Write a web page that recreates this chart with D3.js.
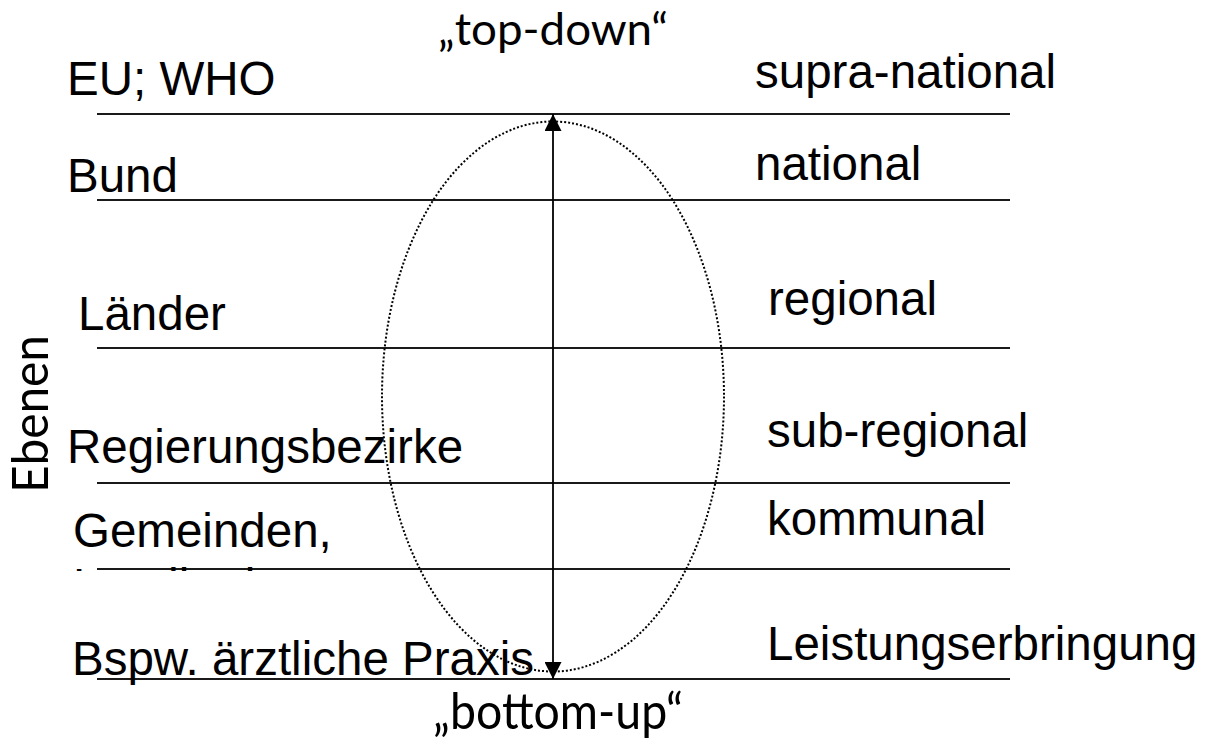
<!DOCTYPE html>
<html>
<head>
<meta charset="utf-8">
<script src="https://cdn.jsdelivr.net/npm/d3@7"></script>
<style>
  body { margin: 0; background: #fff; }
  svg { display: block; }
</style>
</head>
<body>
<svg id="chart" width="1210" height="743"></svg>
<script>
const width = 1210;
const height = 743;

// levels, top to bottom
var levelNames = ["EU; WHO", "Bund", "Länder", "Regierungsbezirke", "Gemeinden,", "Bspw. ärztliche Praxis"];
var scopeNames = ["supra-national", "national", "regional", "sub-regional", "kommunal", "Leistungserbringung"];
// position of each level's line on a 0..5.65 "level depth" scale
var levelEdges = [0, 0.86, 2.34, 3.69, 4.55, 5.65];
var hiddenLine = "Landkreise";
var topLabel = "\u201Etop-down\u201C";
var bottomLabel = "\u201Ebottom-up\u201C";
var axisLabel = "Ebenen";

// layout only
var leftX = [67, 67, 78, 67, 73, 72];
var leftOff = [19, 8, 18, 20, 22, 4];
var rightX = [755, 755, 768, 767, 767, 767];
var rightOff = [26, 20, 33, 36, 34, 19];

var svg = d3.select("#chart");

var y = d3.scaleLinear()
    .domain([0, 5.65])
    .range([114, 679]);

var x = d3.scaleLinear()
    .domain([0, 1])
    .range([97, 1010]);

var sansFont = "'Liberation Sans', Arial, sans-serif";
var humanFont = "Lato, 'Open Sans', sans-serif";
var labelSize = 47.5;

// level lines
svg.append("g")
    .selectAll("line")
    .data(levelEdges)
    .join("line")
    .attr("x1", x(0))
    .attr("x2", x(1))
    .attr("y1", d => y(d))
    .attr("y2", d => y(d))
    .attr("stroke", "#1a1a1a")
    .attr("stroke-width", 2);

// left labels
svg.append("g")
    .selectAll("text")
    .data(levelNames)
    .join("text")
    .attr("x", (d, i) => leftX[i])
    .attr("y", (d, i) => y(levelEdges[i]) - leftOff[i])
    .attr("font-family", sansFont)
    .attr("font-size", labelSize)
    .attr("fill", "#000")
    .text(d => d);

// second line of the "Gemeinden," box, cut off by its frame
var defs = svg.append("defs");
defs.append("clipPath").attr("id", "cutoff")
    .append("rect")
    .attr("x", 60).attr("y", y(levelEdges[4]) - 4)
    .attr("width", 400).attr("height", 6);

svg.append("text")
    .attr("clip-path", "url(#cutoff)")
    .attr("x", leftX[4])
    .attr("y", y(levelEdges[4]) + 33)
    .attr("font-family", sansFont)
    .attr("font-size", labelSize)
    .text(hiddenLine);

// right labels
svg.append("g")
    .selectAll("text")
    .data(scopeNames)
    .join("text")
    .attr("x", (d, i) => rightX[i])
    .attr("y", (d, i) => y(levelEdges[i]) - rightOff[i])
    .attr("font-family", sansFont)
    .attr("font-size", labelSize)
    .attr("fill", "#000")
    .text(d => d);

// dotted ellipse
var cx = 553;
svg.append("ellipse")
    .attr("cx", cx)
    .attr("cy", (y(0) + y(5.65)) / 2)
    .attr("rx", 171)
    .attr("ry", 275)
    .attr("fill", "none")
    .attr("stroke", "#000")
    .attr("stroke-width", 2)
    .attr("stroke-dasharray", "2,2");

// double arrow
defs.append("marker")
    .attr("id", "head")
    .attr("viewBox", "0 0 10 10")
    .attr("refX", 10).attr("refY", 5)
    .attr("markerWidth", 17).attr("markerHeight", 17)
    .attr("markerUnits", "userSpaceOnUse")
    .attr("orient", "auto-start-reverse")
    .append("path")
    .attr("d", "M0,0 L10,5 L0,10 Z")
    .attr("fill", "#000");

svg.append("line")
    .attr("x1", cx).attr("x2", cx)
    .attr("y1", y(0)).attr("y2", y(5.65))
    .attr("stroke", "#000")
    .attr("stroke-width", 1.8)
    .attr("marker-start", "url(#head)")
    .attr("marker-end", "url(#head)");

// top / bottom labels
svg.append("text")
    .attr("x", 438).attr("y", 45)
    .attr("font-family", humanFont)
    .attr("font-size", 44)
    .attr("textLength", 230)
    .attr("lengthAdjust", "spacingAndGlyphs")
    .text(topLabel);

svg.append("text")
    .attr("transform", "translate(433,729) scale(1,1.15)")
    .attr("font-family", humanFont)
    .attr("font-size", 44)
    .attr("textLength", 250)
    .attr("lengthAdjust", "spacingAndGlyphs")
    .text(bottomLabel);

// rotated axis label
svg.append("text")
    .attr("transform", "translate(48,493) rotate(-90)")
    .attr("font-family", humanFont)
    .attr("font-size", 50)
    .attr("textLength", 158)
    .attr("lengthAdjust", "spacingAndGlyphs")
    .text(axisLabel);
</script>
</body>
</html>
